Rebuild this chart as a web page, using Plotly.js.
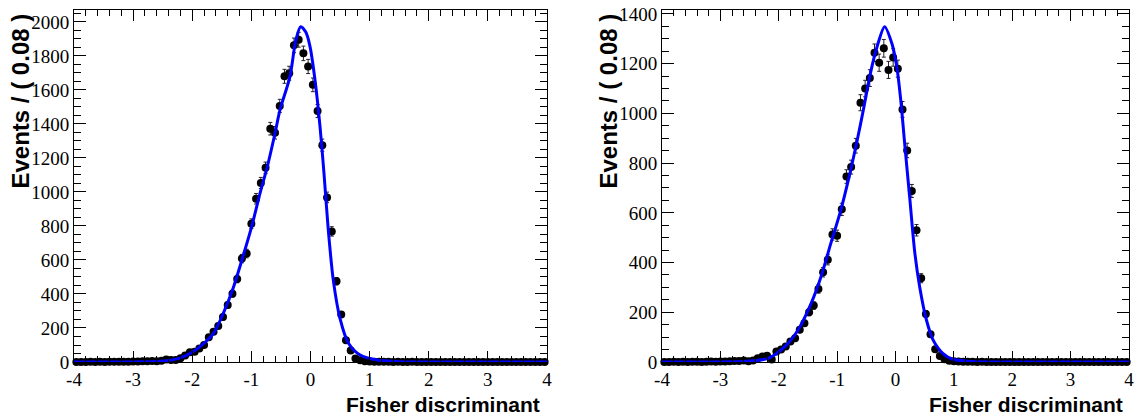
<!DOCTYPE html>
<html>
<head>
<meta charset="utf-8">
<script src="https://cdn.plot.ly/plotly-3.0.1.min.js"></script>
<style>html,body{margin:0;padding:0;background:#fff;}#chart{width:1135px;height:417px;}</style>
</head>
<body>
<div id="chart"></div>
<script>
// Bin centres (bin width 0.08 from -4 to 4)
const binCenters = [-3.96,-3.88,-3.80,-3.72,-3.64,-3.56,-3.48,-3.40,-3.32,-3.24,
  -3.16,-3.08,-3.00,-2.92,-2.84,-2.76,-2.68,-2.60,-2.52,-2.44,
  -2.36,-2.28,-2.20,-2.12,-2.04,-1.96,-1.88,-1.80,-1.72,-1.64,
  -1.56,-1.48,-1.40,-1.32,-1.24,-1.16,-1.08,-1.00,-0.92,-0.84,
  -0.76,-0.68,-0.60,-0.52,-0.44,-0.36,-0.28,-0.20,-0.12,-0.04,
  0.04,0.12,0.20,0.28,0.36,0.44,0.52,0.60,0.68,0.76,
  0.84,0.92,1.00,1.08,1.16,1.24,1.32,1.40,1.48,1.56,
  1.64,1.72,1.80,1.88,1.96,2.04,2.12,2.20,2.28,2.36,
  2.44,2.52,2.60,2.68,2.76,2.84,2.92,3.00,3.08,3.16,
  3.24,3.32,3.40,3.48,3.56,3.64,3.72,3.80,3.88,3.96];

// Left panel: event counts per bin
const countsLeft = [0,0,0,1,0,1,0,1,2,1,
  2,2,3,3,4,5,6,5,8,14,
  12,12,22,38,58,60,80,100,145,178,
  212,264,335,402,488,608,638,813,960,1053,
  1142,1372,1348,1506,1680,1698,1862,1895,1815,1738,
  1630,1476,1275,968,768,475,280,128,68,20,
  10,5,3,2,1,1,1,0,1,0,
  0,1,0,0,0,0,0,0,0,0,
  0,0,0,0,0,0,0,0,0,0,
  0,0,0,0,0,0,0,0,0,0];

// Right panel: event counts per bin
const countsRight = [0,0,1,0,1,0,1,1,0,1,
  2,1,2,2,3,4,4,6,3,6,
  15,22,25,10,42,50,62,82,96,130,
  156,200,227,294,361,411,513,508,614,746,
  784,870,1043,1100,1142,1244,1204,1262,1175,1225,
  1180,1016,851,688,530,337,193,112,51,24,
  11,5,3,2,1,1,1,0,1,0,
  0,0,0,0,0,0,0,0,0,0,
  0,0,0,0,0,0,0,0,0,0,
  0,0,0,0,0,0,0,0,0,0];

// Fit curves
const fitLeftX = [-4,-3.2,-2.8,-2.6,-2.4,-2.2,-2.0,-1.87,-1.64,-1.475,-1.3,-1.16,-0.995,-0.854,-0.73,-0.6,-0.516,-0.347,-0.25,-0.166,-0.08,-0.008,0.076,0.161,0.228,0.30,0.386,0.50,0.64,0.84,1.12,1.5,2,4];
const fitLeftY = [0,0,1,3,9,24,57,90,169,286,443,600,796,992,1149,1345,1482,1678,1890,1972,1940,1855,1659,1384,1110,780,480,255,112,41,12,2,0,0];
const fitRightX = [-4,-3.2,-2.8,-2.6,-2.4,-2.18,-1.895,-1.67,-1.445,-1.276,-1.107,-0.937,-0.795,-0.655,-0.54,-0.43,-0.316,-0.186,-0.063,0.022,0.09,0.162,0.247,0.332,0.416,0.53,0.643,0.81,0.98,1.3,2,4];
const fitRightY = [0,0,1,2,6,15,62,129,236,343,478,611,745,893,1027,1161,1268,1349,1282,1188,1054,866,652,437,300,169,89,35,11,2,0,0];

const xTickVals = [-4,-3,-2,-1,0,1,2,3,4];
const xTickText = ['-4','-3','-2','-1','0','1','2','3','4'];
const yTitle = 'Events / ( 0.08 )';
const xTitle = 'Fisher discriminant';

function dataTrace(y, xa, ya){
  return {x: binCenters, y: y, xaxis: xa, yaxis: ya, type:'scatter', mode:'markers',
    cliponaxis:false,
    marker:{color:'black', size:8, symbol:'circle'},
    error_y:{type:'sqrt', visible:true, color:'#222', thickness:1, width:2}};
}
function fitTrace(x, y, xa, ya){
  return {x:x, y:y, xaxis:xa, yaxis:ya, type:'scatter', mode:'lines',
    cliponaxis:false,
    line:{color:'#0000ff', width:3, shape:'spline', smoothing:0.8}};
}

const serif = "'Liberation Serif', 'Times New Roman', Times, serif";
const sans = "'Liberation Sans', Arial, Helvetica, sans-serif";
const tickFont = {family:serif, size:19, color:'black'};
function xAxis(domain, anchor){
  return {domain:domain, anchor:anchor, range:[-4,4], tickvals:xTickVals, ticktext:xTickText,
    ticks:'inside', ticklen:11, tickwidth:1, tickcolor:'black',
    showline:true, linecolor:'black', linewidth:1, mirror:'ticks',
    showgrid:false, zeroline:false, tickfont:tickFont, ticklabeloverflow:'allow',
    minor:{ticks:'inside', ticklen:6, tick0:-4, dtick:0.2, tickcolor:'black', showgrid:false},
    fixedrange:true};
}
function yAxis(domain, anchor, max){
  return {domain:domain, anchor:anchor, range:[0,max], dtick:200, tick0:0,
    ticks:'inside', ticklen:12, tickwidth:1, tickcolor:'black',
    showline:true, linecolor:'black', linewidth:1, mirror:'ticks',
    showgrid:false, zeroline:false, tickfont:tickFont, ticklabeloverflow:'allow',
    minor:{ticks:'inside', ticklen:7, dtick:50, tickcolor:'black', showgrid:false},
    fixedrange:true};
}

const W = 1135, H = 417;
const yDom = [(H-362)/H, (H-10)/H];
const xTitleFont = {family:sans, size:21, color:'black', weight:'bold'};
const yTitleFont = {family:sans, size:24, color:'black', weight:'bold'};

const layout = {
  width:W, height:H, margin:{l:0,r:0,t:0,b:0},
  paper_bgcolor:'white', plot_bgcolor:'white', showlegend:false,
  xaxis: xAxis([74/W, 547/W], 'y'),
  yaxis: yAxis(yDom, 'x', 2070),
  xaxis2: xAxis([662/W, 1129/W], 'y2'),
  yaxis2: yAxis(yDom, 'x2', 1416),
  annotations:[
    {text:yTitle, xref:'paper', yref:'paper', x:20/W, y:(H-12)/H, xanchor:'center', yanchor:'top', textangle:-90, showarrow:false, font:yTitleFont},
    {text:yTitle, xref:'paper', yref:'paper', x:608/W, y:(H-12)/H, xanchor:'center', yanchor:'top', textangle:-90, showarrow:false, font:yTitleFont},
    {text:xTitle, xref:'paper', yref:'paper', x:542/W, y:(H-404)/H, xanchor:'right', yanchor:'middle', showarrow:false, font:xTitleFont},
    {text:xTitle, xref:'paper', yref:'paper', x:1125/W, y:(H-404)/H, xanchor:'right', yanchor:'middle', showarrow:false, font:xTitleFont}
  ]
};

const traces = [
  dataTrace(countsLeft, 'x', 'y'),
  fitTrace(fitLeftX, fitLeftY, 'x', 'y'),
  dataTrace(countsRight, 'x2', 'y2'),
  fitTrace(fitRightX, fitRightY, 'x2', 'y2')
];

Plotly.newPlot('chart', traces, layout, {displayModeBar:false, staticPlot:true});
</script>
</body>
</html>
